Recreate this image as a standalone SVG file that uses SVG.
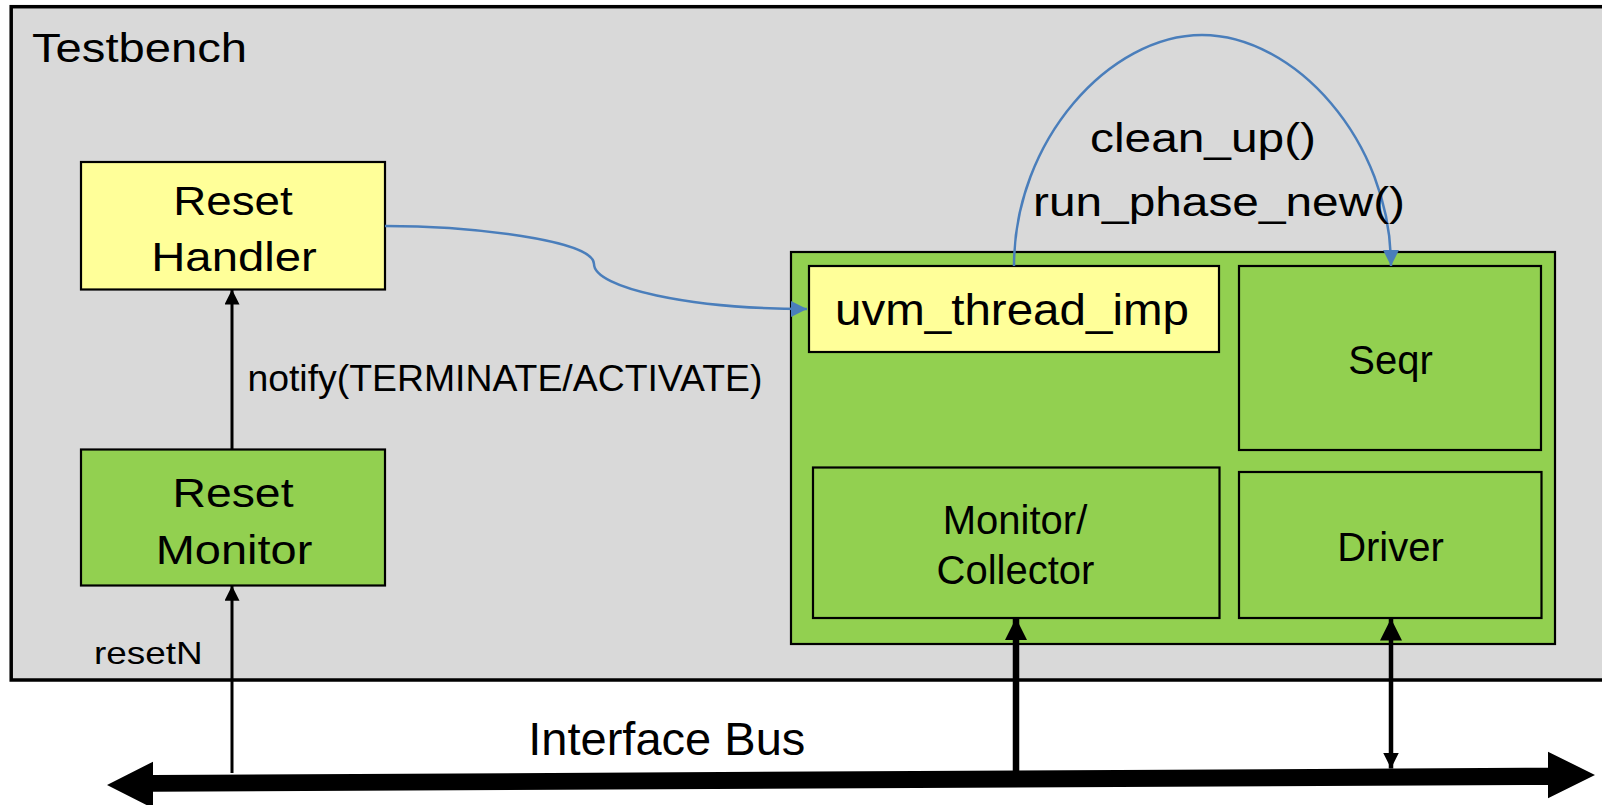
<svg xmlns="http://www.w3.org/2000/svg" width="1602" height="805" viewBox="0 0 1602 805">
  <style>
    .lbl { font-family: "Liberation Sans", Arial, sans-serif; fill: #000; }
    .box { stroke: #000; stroke-width: 2.2; }
    .yellow { fill: #ffff99; }
    .green { fill: #92d050; }
    .blue { fill: none; stroke: #4a7ebb; stroke-width: 2.5; }
    .wire { fill: none; stroke: #000; }
  </style>
  <defs>
    <marker id="arrowBlue" viewBox="0 0 10 10" refX="10" refY="5" markerUnits="userSpaceOnUse" markerWidth="16" markerHeight="16" orient="auto">
      <path d="M0,0 L10,5 L0,10 Z" fill="#4a7ebb"/>
    </marker>
    <marker id="arrowBlack" viewBox="0 0 10 10" refX="10" refY="5" markerUnits="userSpaceOnUse" markerWidth="16" markerHeight="15" orient="auto">
      <path d="M0,0 L10,5 L0,10 Z" fill="#000"/>
    </marker>
    <marker id="arrowBig" viewBox="0 0 10 10" refX="10" refY="5" markerUnits="userSpaceOnUse" markerWidth="22" markerHeight="23" orient="auto">
      <path d="M0,0 L10,5 L0,10 Z" fill="#000"/>
    </marker>
    <marker id="arrowBigStart" viewBox="0 0 10 10" refX="10" refY="5" markerUnits="userSpaceOnUse" markerWidth="16" markerHeight="24" orient="auto-start-reverse">
      <path d="M0,0 L10,5 L0,10 Z" fill="#000"/>
    </marker>
  </defs>

  <!-- Testbench frame -->
  <g id="testbench">
    <rect x="11.2" y="6.7" width="1620" height="673.3" fill="#d9d9d9" stroke="#000" stroke-width="3.5"/>
    <text class="lbl" x="32" y="62" font-size="41" textLength="215" lengthAdjust="spacingAndGlyphs">Testbench</text>
  </g>

  <!-- Agent container -->
  <g id="agent">
    <rect class="box green" x="791" y="252" width="764" height="392"/>
  </g>

  <g id="reset-handler">
    <rect class="box yellow" x="81" y="162" width="304" height="127.5"/>
    <text class="lbl" x="233" y="214.5" font-size="41" text-anchor="middle" textLength="119.5" lengthAdjust="spacingAndGlyphs">Reset</text>
    <text class="lbl" x="234" y="271" font-size="41" text-anchor="middle" textLength="165.6" lengthAdjust="spacingAndGlyphs">Handler</text>
  </g>

  <g id="reset-monitor">
    <rect class="box green" x="81" y="449.5" width="304" height="136"/>
    <text class="lbl" x="233" y="507" font-size="41" text-anchor="middle" textLength="121" lengthAdjust="spacingAndGlyphs">Reset</text>
    <text class="lbl" x="234" y="564" font-size="41" text-anchor="middle" textLength="156.6" lengthAdjust="spacingAndGlyphs">Monitor</text>
  </g>

  <g id="uvm-thread-imp">
    <rect class="box yellow" x="809" y="266" width="410" height="86"/>
    <text class="lbl" x="835" y="325" font-size="44" textLength="354" lengthAdjust="spacingAndGlyphs">uvm_thread_imp</text>
  </g>

  <g id="seqr">
    <rect class="box green" x="1239" y="266" width="302" height="184"/>
    <text class="lbl" x="1390.5" y="374" font-size="40" text-anchor="middle">Seqr</text>
  </g>

  <g id="monitor-collector">
    <rect class="box green" x="813" y="467.5" width="406.5" height="150.5"/>
    <text class="lbl" x="1015" y="534" font-size="40" text-anchor="middle">Monitor/</text>
    <text class="lbl" x="1015.5" y="584" font-size="40" text-anchor="middle">Collector</text>
  </g>

  <g id="driver">
    <rect class="box green" x="1239" y="472" width="302.5" height="146"/>
    <text class="lbl" x="1390.5" y="560.5" font-size="40" text-anchor="middle">Driver</text>
  </g>

  <!-- Interface bus -->
  <g id="interface-bus">
    <polygon points="107,785 153,761.7 153,775 1548,767.7 1548,751.7 1595,775 1548,798.3 1548,785 153,791.7 153,808.3" fill="#000"/>
    <text class="lbl" x="528.3" y="754.5" font-size="47" textLength="277" lengthAdjust="spacingAndGlyphs">Interface Bus</text>
  </g>

  <!-- Connectors -->
  <g id="connectors">
    <path class="blue" d="M385,226 C470,226 594,240 594,264 C594,288 690,309 807,309" marker-end="url(#arrowBlue)"/>
    <path class="blue" d="M1014,266 C1014,140 1110,35 1202,35 C1294,35 1391,140 1391,266" marker-end="url(#arrowBlue)"/>
    <line class="wire" x1="232" y1="449.5" x2="232" y2="289.5" stroke-width="3" marker-end="url(#arrowBlack)"/>
    <line class="wire" x1="232" y1="773" x2="232" y2="585.7" stroke-width="3" marker-end="url(#arrowBlack)"/>
    <line class="wire" x1="1016" y1="772" x2="1016" y2="618" stroke-width="6.5" marker-end="url(#arrowBig)"/>
    <line class="wire" x1="1391" y1="768.5" x2="1391" y2="618.5" stroke-width="4.5" marker-start="url(#arrowBigStart)" marker-end="url(#arrowBig)"/>
    <text class="lbl" x="247.4" y="391" font-size="36" textLength="515" lengthAdjust="spacingAndGlyphs">notify(TERMINATE/ACTIVATE)</text>
    <text class="lbl" x="94" y="664" font-size="32" textLength="108.7" lengthAdjust="spacingAndGlyphs">resetN</text>
    <text class="lbl" x="1090" y="151.7" font-size="41" textLength="226" lengthAdjust="spacingAndGlyphs">clean_up()</text>
    <text class="lbl" x="1033" y="215.5" font-size="41" textLength="372" lengthAdjust="spacingAndGlyphs">run_phase_new()</text>
  </g>
</svg>
